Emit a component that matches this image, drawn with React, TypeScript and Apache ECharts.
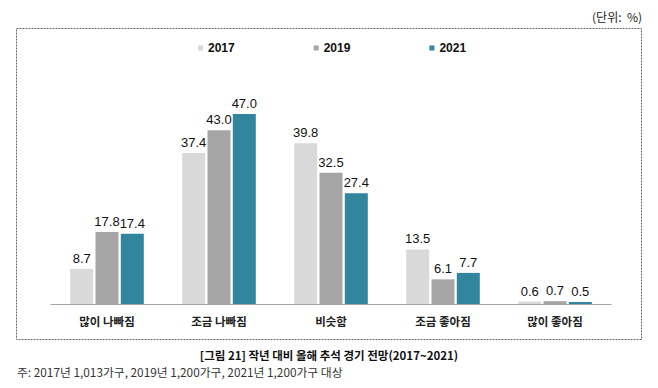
import React, { useEffect, useRef } from "react";
import * as echarts from "echarts";

const categories = ["많이 나빠짐", "조금 나빠짐", "비슷함", "조금 좋아짐", "많이 좋아짐"];
const seriesNames = ["2017", "2019", "2021"];
const values2017 = [8.7, 37.4, 39.8, 13.5, 0.6];
const values2019 = [17.8, 43.0, 32.5, 6.1, 0.7];
const values2021 = [17.4, 47.0, 27.4, 7.7, 0.5];
const colors = ["#d9d9d9", "#a5a5a5", "#31859c"];
const unitText = "(단위:  %)";
const titleText = "[그림 21] 작년 대비 올해 추석 경기 전망(2017~2021)";
const noteText = "주: 2017년 1,013가구, 2019년 1,200가구, 2021년 1,200가구 대상";

const latin = "'Liberation Sans', Arial, 'Noto Sans CJK KR', sans-serif";
const kr = "'Noto Sans CJK KR', 'Liberation Sans', sans-serif";

export default function App() {
  const ref = useRef<HTMLDivElement>(null);
  useEffect(() => {
    if (!ref.current) return;
    const chart = echarts.init(ref.current, null, { renderer: "svg" });
    const data = [values2017, values2019, values2021];
    chart.setOption({
      animation: false,
      backgroundColor: "#ffffff",
      grid: { left: 51, right: 47, top: 102, bottom: 84 },
      legend: {
        data: seriesNames,
        left: 193,
        top: 37,
        icon: "rect",
        itemWidth: 5,
        itemHeight: 5,
        itemGap: 79,
        textStyle: { fontFamily: latin, fontSize: 12, fontWeight: "bold", color: "#111" },
      },
      xAxis: {
        type: "category",
        data: categories,
        axisLine: { lineStyle: { color: "#a6a6a6", width: 1 } },
        axisTick: { show: false },
        axisLabel: {
          margin: 11,
          fontFamily: kr,
          fontSize: 11.5,
          fontWeight: "bold",
          color: "#222",
        },
      },
      yAxis: {
        type: "value",
        min: 0,
        max: 50,
        show: false,
        splitLine: { show: false },
      },
      series: seriesNames.map((name, i) => ({
        name,
        type: "bar",
        data: data[i],
        barWidth: 23,
        barGap: "10%",
        itemStyle: { color: colors[i] },
        label: {
          show: true,
          position: "top",
          distance: 4,
          formatter: (p: any) => Number(p.value).toFixed(1),
          fontFamily: latin,
          fontSize: 13,
          color: "#111",
        },
      })),
      graphic: [
        {
          type: "rect",
          shape: { x: 16.5, y: 28.5, width: 625, height: 311 },
          style: { fill: "none", stroke: "#666", lineWidth: 1, lineDash: [2, 1] },
          silent: true,
        },
        {
          type: "text",
          right: 16,
          top: 10,
          style: { text: unitText, fontFamily: kr, fontSize: 12, fill: "#222" },
        },
        {
          type: "text",
          left: "center",
          top: 349,
          style: { text: titleText, fontFamily: kr, fontSize: 11.5, fontWeight: "bold", fill: "#111" },
        },
        {
          type: "text",
          left: 17,
          top: 366,
          style: { text: noteText, fontFamily: kr, fontSize: 11.8, fill: "#333" },
        },
      ],
    });
    return () => chart.dispose();
  }, []);
  return (
    <div
      ref={ref}
      style={{ position: "fixed", left: 0, top: 0, width: 658, height: 388 }}
    />
  );
}
